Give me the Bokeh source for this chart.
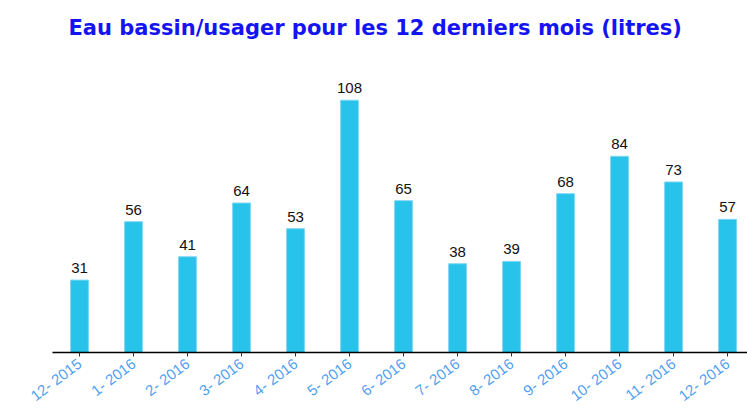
from bokeh.plotting import figure
from bokeh.models import ColumnDataSource, FixedTicker, Range1d, Title
from bokeh.embed import file_html
from bokeh.resources import INLINE
from bokeh.core.properties import value

months = ["12- 2015", "1- 2016", "2- 2016", "3- 2016", "4- 2016", "5- 2016", "6- 2016",
          "7- 2016", "8- 2016", "9- 2016", "10- 2016", "11- 2016", "12- 2016"]
litres = [31, 56, 41, 64, 53, 108, 65, 38, 39, 68, 84, 73, 57]

xs = list(range(len(months)))
src = ColumnDataSource(dict(x=xs, y=litres, lab=[str(v) for v in litres]))

p = figure(width=747, height=414, output_backend="svg", toolbar_location=None,
           x_range=Range1d(-0.5, 12.37), y_range=Range1d(0, 128.0),
           min_border_left=52, min_border_right=0, min_border_bottom=62, min_border_top=10)
p.title = None
t = Title(text="Eau bassin/usager pour les 12 derniers mois (litres)", align="left", offset=16,
          text_color="#1414f2", text_font="DejaVu Sans", text_font_size="21px",
          text_font_style="bold", standoff=27)
p.add_layout(t, "above")

p.vbar(x="x", top="y", width=0.33, bottom=0, source=src, fill_color="#27c3eb",
       line_color="#7dd8f2", line_width=1)
p.text(x="x", y="y", text="lab", source=src, y_offset=-7, text_align="center",
       text_baseline="bottom", text_font=value("Liberation Sans"), text_font_size="15px",
       text_color="#111111")

p.xaxis.ticker = FixedTicker(ticks=xs)
p.xaxis.major_label_overrides = {i: m for i, m in enumerate(months)}
p.xaxis.major_label_orientation = 0.65
p.xaxis.major_label_text_color = "#4f9ff2"
p.xaxis.major_label_text_font = "Liberation Sans"
p.xaxis.major_label_text_font_size = "15px"
p.xaxis.axis_line_color = "#000000"
p.xaxis.axis_line_width = 1.5
p.xaxis.major_tick_in = 0
p.xaxis.major_tick_out = 4
p.xaxis.major_tick_line_color = "#333333"
p.xaxis.minor_tick_line_color = None
p.xaxis.major_label_standoff = 5
p.yaxis.visible = False
p.xgrid.visible = False
p.ygrid.visible = False
p.outline_line_color = None

open("out.html", "w").write(file_html(p, INLINE))
